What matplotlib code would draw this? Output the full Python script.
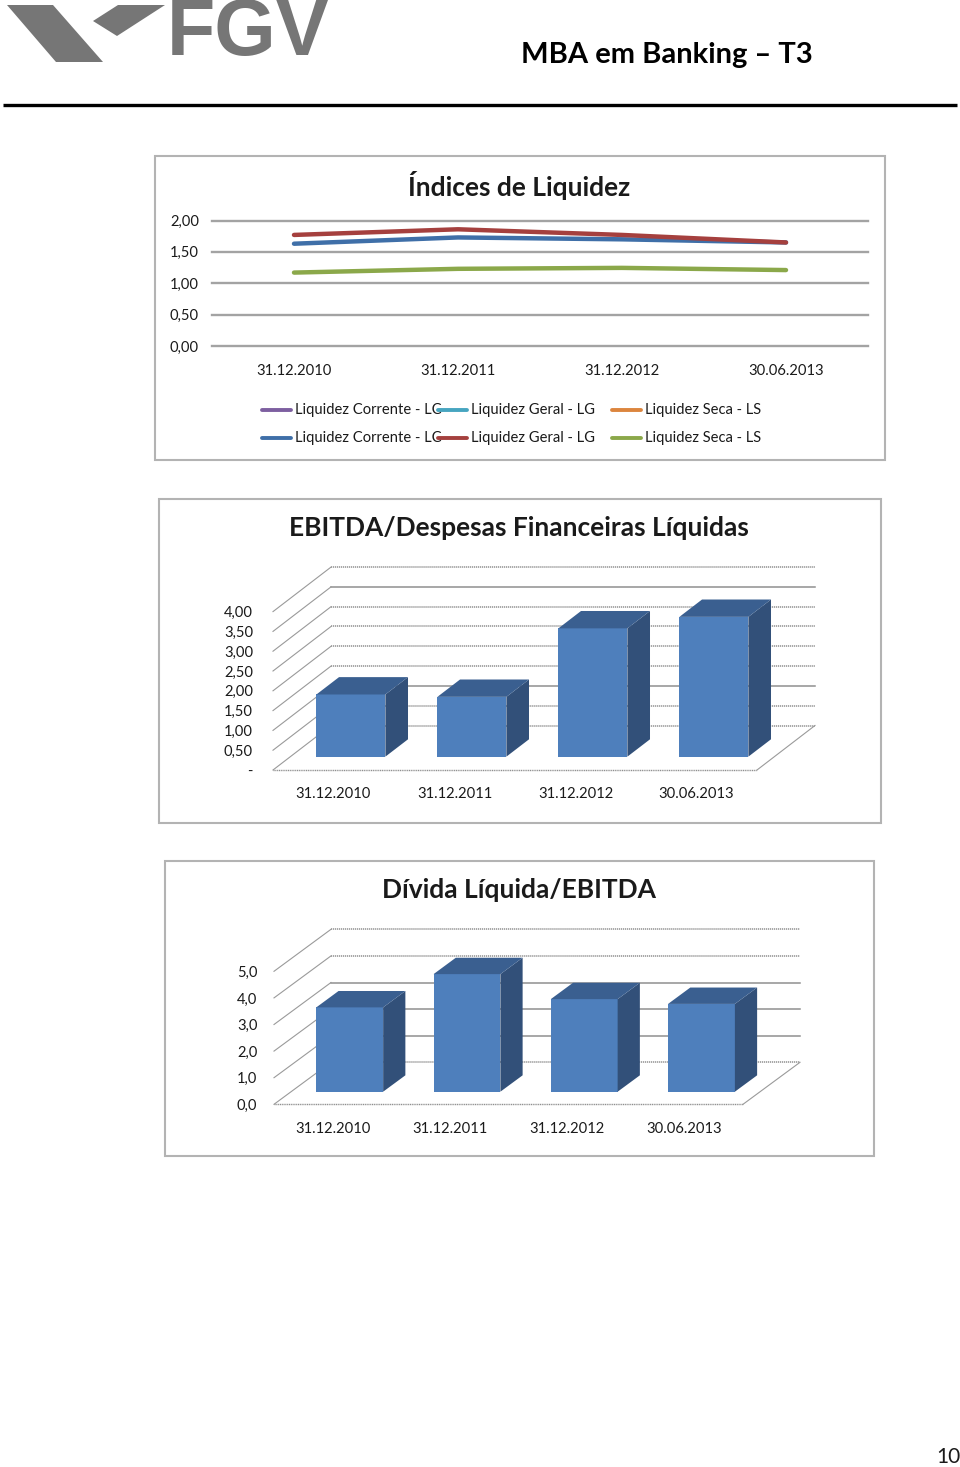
import matplotlib
matplotlib.use("Agg")
import matplotlib.pyplot as plt
from matplotlib.patches import Polygon, Rectangle

plt.rcParams['font.family'] = ['Lato', 'DejaVu Sans']

W, H = 960, 1467
TXT = "#1a1a1a"

# dados
datas = ["31.12.2010", "31.12.2011", "31.12.2012", "30.06.2013"]
liq_corrente = [1.63, 1.73, 1.70, 1.65]
liq_geral = [1.77, 1.86, 1.77, 1.65]
liq_seca = [1.17, 1.23, 1.245, 1.21]
liq_ticks = [0, 0.5, 1.0, 1.5, 2.0]
liq_labels = ["0,00", "0,50", "1,00", "1,50", "2,00"]
legenda_nomes = ["Liquidez Corrente - LC", "Liquidez Geral - LG", "Liquidez Seca - LS"]

ebitda_desp = [1.57, 1.51, 3.24, 3.53]
ebitda_ticks = [0, 0.5, 1.0, 1.5, 2.0, 2.5, 3.0, 3.5, 4.0]
ebitda_labels = ["-", "0,50", "1,00", "1,50", "2,00", "2,50", "3,00", "3,50", "4,00"]

divida_ebitda = [3.17, 4.42, 3.48, 3.30]
divida_ticks = [0, 1, 2, 3, 4, 5]
divida_labels = ["0,0", "1,0", "2,0", "3,0", "4,0", "5,0"]


def add_axes_px(left, right, top, bottom):
    ax = fig.add_axes([left / W, 1 - bottom / H, (right - left) / W, (bottom - top) / H])
    ax.patch.set_alpha(0)
    for s in ax.spines.values():
        s.set_visible(False)
    return ax


def grid_style(solid):
    return "-" if solid else (0, (0.8, 0.5))


def chart_3d(box, values, ticks, labels, solid, dx, dy, pads):
    # dx, dy = profundidade da parede em unidades de dados
    ax = add_axes_px(*box)
    ax.set_xlim(-0.5, 3.5)
    ax.set_ylim(0, ticks[-1])
    x0, x1 = -0.5, 3.5
    for t, s in zip(ticks, solid):
        ax.plot([x0 + dx, x1 + dx], [t + dy, t + dy], color="#8f8f8f", lw=1.1,
                ls=grid_style(s), clip_on=False, zorder=1)
        ax.plot([x0, x0 + dx], [t, t + dy], color="#9a9a9a", lw=0.8, clip_on=False, zorder=1)
    ax.plot([x0, x1], [0, 0], color="#8f8f8f", lw=1.0, ls=grid_style(False), clip_on=False, zorder=1)
    ax.plot([x1, x1 + dx], [0, dy], color="#9a9a9a", lw=0.8, clip_on=False, zorder=1)

    # barras 3d: frente em 30% da profundidade, fundo em 69%
    d0, d1 = 0.30, 0.69
    bw = 0.285
    for i, v in enumerate(values):
        xa = i - bw + dx * d0
        xb = i + bw + dx * d0
        ya = dy * d0
        yb = v + dy * d0
        ox = dx * (d1 - d0)
        oy = dy * (d1 - d0)
        ax.add_patch(Polygon([(xa, ya), (xb, ya), (xb, yb), (xa, yb)], fc="#4e7fbc", ec="none",
                             clip_on=False, zorder=3))
        ax.add_patch(Polygon([(xb, ya), (xb + ox, ya + oy), (xb + ox, yb + oy), (xb, yb)], fc="#325079",
                             ec="none", clip_on=False, zorder=3))
        ax.add_patch(Polygon([(xa, yb), (xb, yb), (xb + ox, yb + oy), (xa + ox, yb + oy)], fc="#3a5f90",
                             ec="none", clip_on=False, zorder=3))

    ax.set_xticks(range(4))
    ax.set_xticklabels(datas)
    ax.set_yticks(ticks)
    ax.set_yticklabels(labels)
    ax.tick_params(axis="x", length=0, pad=pads[0], labelsize=FS, labelcolor=TXT)
    ax.tick_params(axis="y", length=0, pad=pads[1], labelsize=FS, labelcolor=TXT)
    return ax


FS = 10.6
fig = plt.figure(figsize=(W / 100, H / 100), dpi=100, facecolor="white")

# camada da pagina em pixels
page = fig.add_axes([0, 0, 1, 1])
page.set_xlim(0, W)
page.set_ylim(H, 0)
page.axis("off")

# logo e cabecalho
page.add_patch(Polygon([(7, 5), (53, 5), (103, 62), (56, 62)], fc="#767676", ec="none"))
page.add_patch(Polygon([(93, 21), (118, 5), (165, 5), (117, 36)], fc="#767676", ec="none"))
page.text(248, 34, "FGV", family=["Liberation Sans Narrow", "Liberation Sans"], weight="bold",
          fontsize=57, color="#767676", ha="center", va="center")
page.text(667, 55, "MBA em Banking – T3", fontsize=21, weight="bold", color="black", ha="center", va="center")
page.plot([3, 957], [104.5, 104.5], color="black", lw=2.4, solid_capstyle="butt")
page.text(948, 1457, "10", fontsize=15, color=TXT, ha="center", va="center")

# molduras
for x0, x1, y0, y1 in [(154.5, 885, 155.5, 459.5), (158.5, 881, 498.5, 822.5), (165, 874, 861, 1156)]:
    page.add_patch(Rectangle((x0, y0), x1 - x0, y1 - y0, fc="white", ec="#b3b3b3", lw=1.5))

# titulos
page.text(519, 185, "Índices de Liquidez", fontsize=19, weight="bold", color=TXT, ha="center", va="center")
page.text(519, 528, "EBITDA/Despesas Financeiras Líquidas", fontsize=19, weight="bold", color=TXT,
          ha="center", va="center")
page.text(519, 890, "Dívida Líquida/EBITDA", fontsize=19, weight="bold", color=TXT, ha="center", va="center")

# grafico de linhas
ax = add_axes_px(212, 868, 220.5, 346)
ax.set_xlim(-0.5, 3.5)
ax.set_ylim(0, 2)
for t in liq_ticks:
    ax.axhline(t, color="#a3a3a3", lw=1.7, clip_on=False, zorder=1)
ax.plot(range(4), liq_corrente, color="#3f6fa8", lw=3.2, solid_capstyle="round", zorder=3)
ax.plot(range(4), liq_geral, color="#a5403e", lw=3.2, solid_capstyle="round", zorder=3)
ax.plot(range(4), liq_seca, color="#8ba84a", lw=3.2, solid_capstyle="round", zorder=3)
ax.set_xticks(range(4))
ax.set_xticklabels(datas)
ax.set_yticks(liq_ticks)
ax.set_yticklabels(liq_labels)
ax.tick_params(axis="x", length=0, pad=13, labelsize=FS, labelcolor=TXT)
ax.tick_params(axis="y", length=0, pad=9.4, labelsize=FS, labelcolor=TXT)

# legenda
leg_x = [260, 436, 610]
leg_cores = [["#7d5fa0", "#46a5c0", "#dc853e"], ["#3f6fa8", "#a5403e", "#8ba84a"]]
for y, cores in zip([410, 438], leg_cores):
    for x, c, nome in zip(leg_x, cores, legenda_nomes):
        page.plot([x + 2, x + 31], [y, y], color=c, lw=2.8, solid_capstyle="round")
        page.text(x + 35, y, nome, fontsize=FS, color=TXT, ha="left", va="center")

# graficos 3d
chart_3d((273, 757, 611.6, 770), ebitda_desp, ebitda_ticks, ebitda_labels,
         [False, False, True, False, False, False, False, True, False],
         58 / 121, 44.5 / 39.6, (12, 14.4))
chart_3d((274, 743, 971.3, 1104.3), divida_ebitda, divida_ticks, divida_labels,
         [False, True, True, True, False, False],
         57 / 117.25, 42 / 26.6, (12.5, 12))

fig.savefig("out.png", dpi=100, facecolor="white")
